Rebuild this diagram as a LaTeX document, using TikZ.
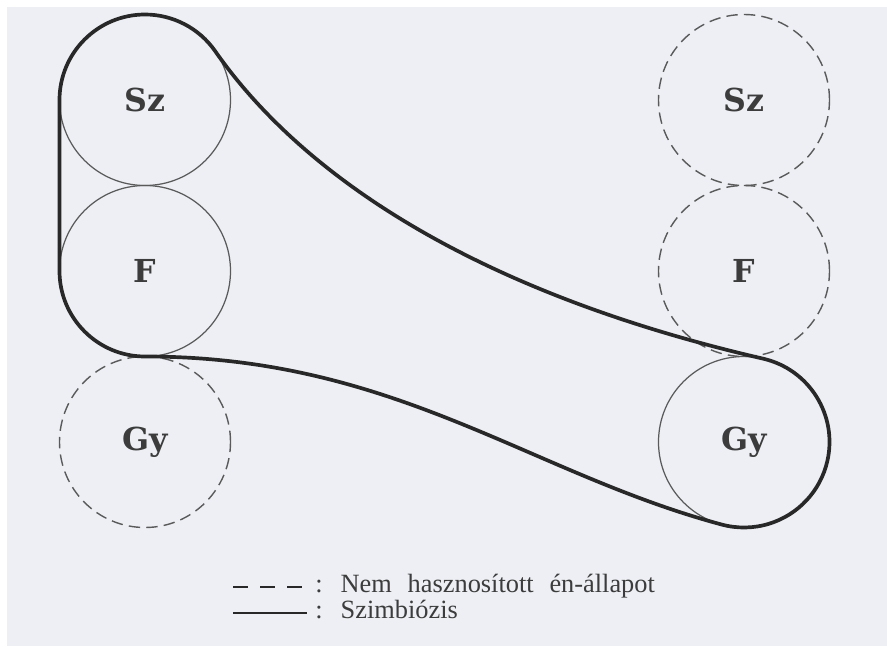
\documentclass[tikz,border=0pt]{standalone}
\usepackage{fontspec}
\setmainfont{Liberation Serif}
\newfontfamily\labfont{DejaVu Serif}
\usetikzlibrary{positioning}
\definecolor{figline}{RGB}{40,40,40}
\definecolor{figthin}{RGB}{90,90,90}
\definecolor{figtext}{RGB}{60,60,60}
\definecolor{figpaper}{RGB}{237,239,244}
\newcommand\legfont{\fontsize{15}{18}\selectfont\spaceskip=0.6em\relax}
\tikzset{
  st/.style  ={circle, draw=figthin, line width=0.7pt, minimum size=3.42cm,
               inner sep=0pt, outer sep=0pt, text=figtext,
               font=\labfont\bfseries\fontsize{18}{20}\selectfont},
  std/.style ={st, line width=0.8pt, dash pattern=on 6.5pt off 3.5pt},
  symb/.style={draw=figline, line width=2.1pt, line join=round},
  legl/.style={draw=figline, line width=1.2pt},
  leg/.style ={font=\legfont, text=figtext, inner sep=0pt, anchor=base west},
}

\begin{document}
\begin{tikzpicture}
  \useasboundingbox (0,0) rectangle (17.74,12.92);
  \fill[figpaper] (0.14,0) rectangle (17.74,12.78);
  % left column of states
  \node[st]  (szL) at (2.90,10.92) {Sz};
  \node[st,  below=0pt of szL] (fL)  {F};
  \node[std, below=0pt of fL]  (gyL) {Gy};
  % right column of states
  \node[std] (szR) at (14.88,10.92) {Sz};
  \node[std, below=0pt of szR] (fR)  {F};
  \node[st,  below=0pt of fR]  (gyR) {Gy};
  % symbiosis outline
  \draw[symb] (szL.west) arc[start angle=180,end angle=35,radius=1.71]
    .. controls +(-55:3) and +(167:6) .. (gyR.77)
    arc[start angle=77,end angle=-105,radius=1.71]
    .. controls +(165:4) and +(0:5) .. (fL.south)
    arc[start angle=270,end angle=180,radius=1.71] -- cycle;
  % legend
  \coordinate (d0) at (4.66,1.18);
  \coordinate (d1) at (6.14,1.18);
  \coordinate (s0) at (4.66,0.66);
  \coordinate (s1) at (6.14,0.66);
  \draw[legl, dash pattern=on 8.5pt off 7pt] (d0) -- (d1);
  \draw[legl] (s0) -- (s1);
  \node[leg] (tx1) at (6.30,1.08) {: Nem hasznosított én-állapot};
  \node[leg] (tx2) at (6.30,0.56) {: Szimbiózis};
\end{tikzpicture}
\end{document}
